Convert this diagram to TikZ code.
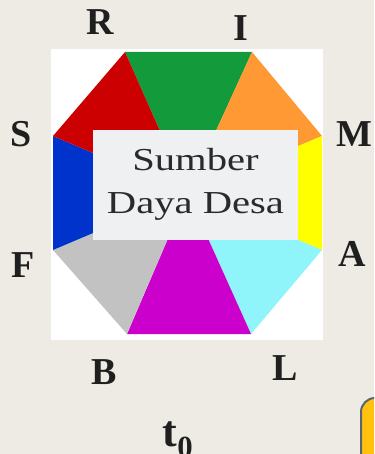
\documentclass[tikz,border=0pt]{standalone}
\usepackage{fontspec}
\setmainfont{Liberation Serif}
\newfontfamily\boxfont[FakeStretch=1.27]{Liberation Serif}
\definecolor{bgc}{HTML}{EDEBE3}
\definecolor{cgreen}{HTML}{139A3A}
\definecolor{cred}{HTML}{CC0000}
\definecolor{corange}{HTML}{FF9933}
\definecolor{cyellow}{HTML}{FFFF00}
\definecolor{ccyan}{HTML}{8FF5FA}
\definecolor{cmag}{HTML}{CC00CC}
\definecolor{cgrey}{HTML}{C2C2C2}
\definecolor{cblue}{HTML}{0033CC}
\definecolor{cbox}{HTML}{EFF0F2}
\definecolor{ctext}{HTML}{2A2A2A}
\definecolor{cgold}{HTML}{FFC20E}
\definecolor{cedge}{HTML}{5A6470}
\tikzset{
  lbl/.style={font=\bfseries\fontsize{38}{38}\selectfont, text=black!88, inner sep=0pt},
}
\begin{document}
\begin{tikzpicture}[x=1pt,y=-1pt]
\useasboundingbox (0,0) rectangle (374,454);
\fill[bgc] (0,0) rectangle (374,454);
% partial shape bottom right
\begin{scope}
\clip (0,0) rectangle (374,454);
\draw[fill=cgold, draw=cedge, line width=2pt, rounded corners=14pt] (361,398) rectangle (420,500);
\end{scope}
% white square
\fill[white] (51,49) rectangle (323,340);
% octagon vertices
\coordinate (C) at (187.5,193);
\coordinate (R) at (125,52);
\coordinate (I) at (252,52);
\coordinate (M) at (322,136);
\coordinate (A) at (322,250);
\coordinate (L) at (251,334);
\coordinate (B) at (127,334);
\coordinate (F) at (53,250);
\coordinate (S) at (53,136);
\fill[cgreen] (C) -- (R) -- (I) -- cycle;
\fill[corange] (C) -- (I) -- (M) -- cycle;
\fill[cyellow] (C) -- (M) -- (A) -- cycle;
\fill[ccyan] (C) -- (A) -- (L) -- cycle;
\fill[cmag] (C) -- (L) -- (B) -- cycle;
\fill[cgrey] (C) -- (B) -- (F) -- cycle;
\fill[cblue] (C) -- (F) -- (S) -- cycle;
\fill[cred] (C) -- (S) -- (R) -- cycle;
% inner box
\node[fill=cbox, minimum width=205pt, minimum height=110pt, inner sep=0pt] (box) at (195.5,185) {};
\node[align=center, text=ctext, font=\boxfont\fontsize{32}{43}\selectfont] (boxtext) at (195.5,184) {Sumber\\Daya Desa};
% labels
\node[lbl] (lR) at (100,22.5) {R};
\node[lbl] (lI) at (241,28) {I};
\node[lbl] (lS) at (21,134) {S};
\node[lbl] (lM) at (354,134) {M};
\node[lbl] (lF) at (23,265) {F};
\node[lbl] (lA) at (352,254) {A};
\node[lbl] (lB) at (104,372) {B};
\node[lbl] (lL) at (285,368) {L};
\node[lbl, font=\bfseries\fontsize{44}{44}\selectfont, anchor=base] (lt) at (178,446) {t\textsubscript{0}};
\end{tikzpicture}
\end{document}
